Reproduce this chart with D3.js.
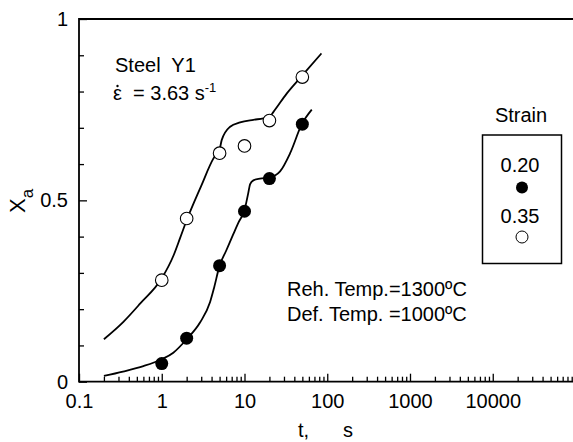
<!DOCTYPE html>
<html>
<head>
<meta charset="utf-8">
<script src="https://cdn.jsdelivr.net/npm/d3@7"></script>
<style>
  body { margin: 0; background: #fff; }
  text { font-family: "Liberation Sans", Arial, sans-serif; fill: #000; }
</style>
</head>
<body>
<div id="chart"></div>
<script>
var svgWidth = 573
var svgHeight = 442

// measured data points (strain 0.20 filled, 0.35 open)
var times = [1, 2, 5, 10, 20, 50]
var xa020 = [0.05, 0.12, 0.32, 0.47, 0.56, 0.71]
var xa035 = [0.28, 0.45, 0.63, 0.65, 0.72, 0.84]

// fitted curves
var fit020T = [0.2, 0.34, 0.6, 1.0, 1.38, 2.0, 2.9, 3.84, 4.3, 5.0, 6.0, 7.3, 8.5, 10, 11.1, 11.7, 12.8, 15.4, 20, 26.9, 35.6, 49.3, 65]
var fit020X = [0.016, 0.028, 0.043, 0.062, 0.08, 0.117, 0.163, 0.22, 0.26, 0.32, 0.361, 0.406, 0.44, 0.473, 0.52, 0.545, 0.555, 0.56, 0.563, 0.58, 0.63, 0.71, 0.75]
var fit035T = [0.2, 0.344, 0.547, 1.0, 1.4, 1.66, 2.0, 3.0, 4.2, 5.0, 5.3, 6.7, 8.85, 12.8, 16.9, 20, 22.4, 32.5, 49.3, 85]
var fit035X = [0.117, 0.165, 0.215, 0.285, 0.35, 0.395, 0.445, 0.54, 0.615, 0.64, 0.666, 0.703, 0.715, 0.722, 0.726, 0.73, 0.744, 0.795, 0.843, 0.905]

// tick labels
var xTickValues = [0.1, 1, 10, 100, 1000, 10000]
var xTickLabels = ["0.1", "1", "10", "100", "1000", "10000"]
var yTickValues = [0, 0.5, 1]
var yTickLabels = ["0", "0.5", "1"]

var legendLabels = ["0.20", "0.35"]

var svg = d3.select("#chart")
    .append("svg")
    .attr("width", svgWidth)
    .attr("height", svgHeight)

var xScale = d3.scaleLog()
    .domain([0.1, 1e5])
    .range([79, 575.5])

var yScale = d3.scaleLinear()
    .domain([0, 1])
    .range([381.7, 19])

// minor x ticks
var xMinor = xScale.ticks().filter(d => xTickValues.indexOf(d) < 0 && d < 1e5)
svg.append("g")
    .attr("transform", "translate(0,381.7)")
    .call(d3.axisBottom(xScale).tickValues(xMinor).tickSize(-5).tickFormat(""))
    .call(g => g.select(".domain").remove())

// major x ticks + labels
var xAxis = svg.append("g")
    .attr("transform", "translate(0,381.7)")
    .call(d3.axisBottom(xScale).tickValues(xTickValues).tickSize(-8).tickPadding(12.4)
        .tickFormat((d, i) => xTickLabels[i]))
xAxis.select(".domain").remove()

// y ticks
var yMinor = d3.range(1, 10).map(d => d / 10).filter(d => d !== 0.5)
svg.append("g")
    .attr("transform", "translate(79,0)")
    .call(d3.axisLeft(yScale).tickValues(yMinor).tickSize(-5).tickFormat(""))
    .call(g => g.select(".domain").remove())

var yAxis = svg.append("g")
    .attr("transform", "translate(79,0)")
    .call(d3.axisLeft(yScale).tickValues(yTickValues).tickSize(-8).tickPadding(11)
        .tickFormat((d, i) => yTickLabels[i]))
yAxis.select(".domain").remove()

svg.selectAll(".tick line").attr("stroke", "#000").attr("stroke-width", 1.3)
svg.selectAll(".tick text")
    .style("font-family", "'Liberation Sans', Arial, sans-serif")
    .attr("font-size", 20)
    .attr("fill", "#000")

// frame: left, bottom, top
svg.append("path")
    .attr("d", `M573,${yScale(1)}H${xScale(0.1)}V${yScale(0)}H573`)
    .attr("fill", "none")
    .attr("stroke", "#000")
    .attr("stroke-width", 1.8)

// curves
var line = d3.line()
    .x(d => xScale(d[0]))
    .y(d => yScale(d[1]))
    .curve(d3.curveMonotoneX)

svg.append("path")
    .datum(fit020T.map((t, i) => [t, fit020X[i]]))
    .attr("d", line)
    .attr("fill", "none")
    .attr("stroke", "#000")
    .attr("stroke-width", 1.8)

svg.append("path")
    .datum(fit035T.map((t, i) => [t, fit035X[i]]))
    .attr("d", line)
    .attr("fill", "none")
    .attr("stroke", "#000")
    .attr("stroke-width", 1.8)

// points
svg.selectAll(".p020")
    .data(times)
    .enter()
    .append("circle")
    .attr("class", "p020")
    .attr("cx", d => xScale(d))
    .attr("cy", (d, i) => yScale(xa020[i]))
    .attr("r", 6.5)
    .attr("fill", "#000")

svg.selectAll(".p035")
    .data(times)
    .enter()
    .append("circle")
    .attr("class", "p035")
    .attr("cx", d => xScale(d))
    .attr("cy", (d, i) => yScale(xa035[i]))
    .attr("r", 6.3)
    .attr("fill", "#fff")
    .attr("stroke", "#000")
    .attr("stroke-width", 1.1)

// annotations
svg.append("text")
    .attr("x", 115).attr("y", 72.3)
    .attr("font-size", 20)
    .style("white-space", "pre")
    .text("Steel  Y1")

var rate = svg.append("text")
    .attr("x", 113).attr("y", 100)
    .attr("font-size", 20)
    .style("white-space", "pre")
rate.append("tspan").text("\u03B5")
rate.append("tspan").text("  = 3.63 s")
rate.append("tspan").attr("font-size", 13).attr("dy", -8).text("-1")

// the dot over epsilon (time derivative)
svg.append("circle")
    .attr("cx", 117.5).attr("cy", 86)
    .attr("r", 1.2)
    .attr("fill", "#000")

svg.append("text")
    .attr("x", 287).attr("y", 296)
    .attr("font-size", 20)
    .text("Reh. Temp.=1300\u00BAC")
svg.append("text")
    .attr("x", 287).attr("y", 321)
    .attr("font-size", 20)
    .text("Def. Temp. =1000\u00BAC")

// axis titles
var xt = svg.append("text").attr("y", 437).attr("font-size", 20)
xt.append("tspan").attr("x", 298).text("t,")
xt.append("tspan").attr("x", 343).text("s")

var yt = svg.append("text")
    .attr("transform", "translate(25,213) rotate(-90)")
    .attr("font-size", 22)
yt.append("tspan").text("X")
yt.append("tspan").attr("font-size", 17).attr("dy", 8).text("a")

// legend
svg.append("text")
    .attr("x", 521).attr("y", 121.7)
    .attr("text-anchor", "middle")
    .attr("font-size", 20)
    .text("Strain")

svg.append("rect")
    .attr("x", 482.5).attr("y", 135)
    .attr("width", 79).attr("height", 128.5)
    .attr("fill", "none")
    .attr("stroke", "#000")
    .attr("stroke-width", 1.5)

svg.selectAll(".legText")
    .data(legendLabels)
    .enter()
    .append("text")
    .attr("class", "legText")
    .attr("x", 520)
    .attr("y", (d, i) => 171.7 + i * 51)
    .attr("text-anchor", "middle")
    .attr("font-size", 20)
    .text(d => d)

svg.append("circle")
    .attr("cx", 522).attr("cy", 187.5).attr("r", 6)
    .attr("fill", "#000")
svg.append("circle")
    .attr("cx", 522).attr("cy", 237).attr("r", 6)
    .attr("fill", "#fff")
    .attr("stroke", "#000")
    .attr("stroke-width", 1)
</script>
</body>
</html>
